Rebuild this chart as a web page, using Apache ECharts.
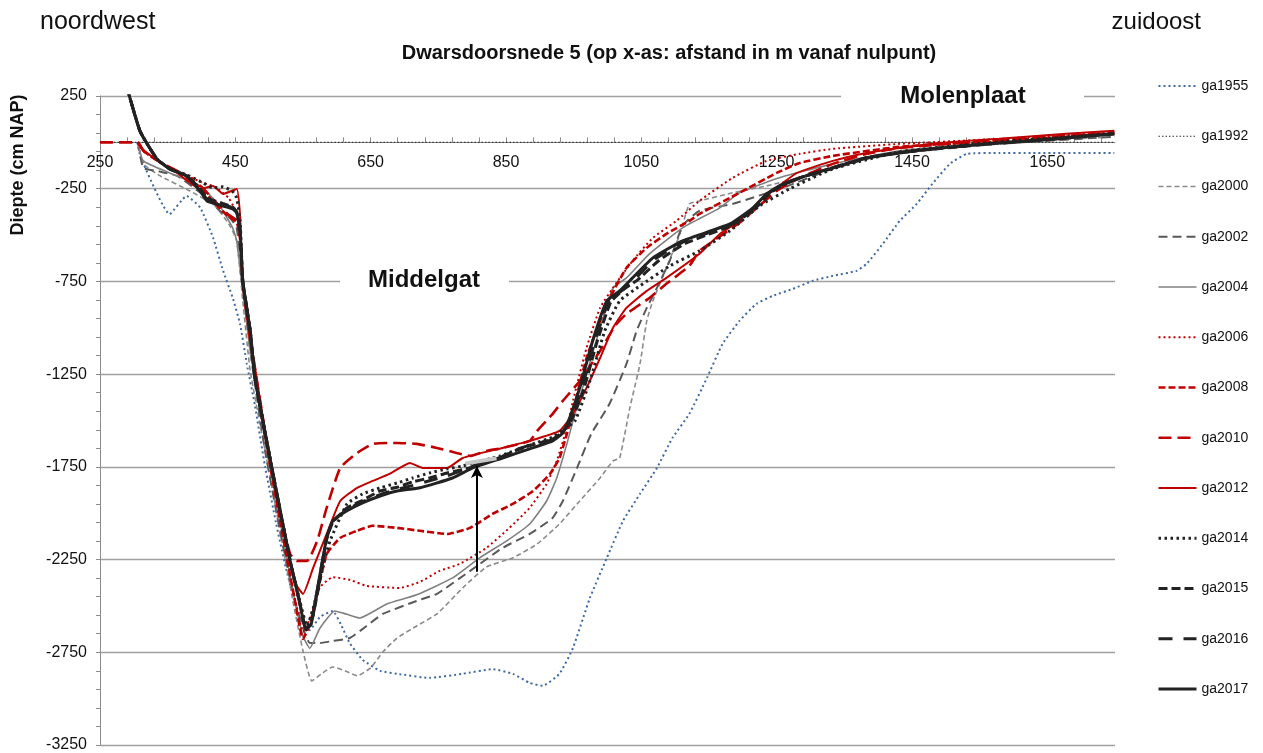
<!DOCTYPE html>
<html>
<head>
<meta charset="utf-8">
<script src="https://cdn.jsdelivr.net/npm/echarts@6/dist/echarts.min.js"></script>
<style>
html,body{margin:0;padding:0;background:#fff;}
#chart{width:1263px;height:753px;}
</style>
</head>
<body>
<div id="chart"></div>
<script>
// ---- data: [afstand (m), diepte (cm NAP)] ----
const seriesNames = ['ga1955','ga1992','ga2000','ga2002','ga2004','ga2006','ga2008','ga2010','ga2012','ga2014','ga2015','ga2016','ga2017'];

const ga1955 = [[305,0],[310,-80],[353,-387],[378,-289],[398,-352],[417,-513],[432,-693],[446,-837],[457,-980],[467,-1195],[479,-1420],[494,-1750],[510,-2050],[525,-2300],[541,-2511],[560,-2630],[575,-2560],[594,-2527],[606,-2600],[619,-2700],[638,-2790],[664,-2850],[689,-2866],[737,-2888],[786,-2866],[830,-2841],[860,-2866],[885,-2915],[904,-2931],[929,-2866],[949,-2726],[974,-2457],[999,-2241],[1023,-2041],[1048,-1896],[1073,-1756],[1096,-1594],[1121,-1464],[1147,-1270],[1170,-1087],[1195,-963],[1220,-871],[1244,-828],[1274,-790],[1303,-747],[1333,-720],[1368,-693],[1383,-655],[1407,-547],[1432,-423],[1457,-332],[1480,-224],[1506,-116],[1531,-62],[1579,-57],[1628,-57],[1749,-57]];
const ga1992 = [[250,0],[1750,0]];
const ga2000 = [[306,0],[314,-116],[339,-181],[383,-262],[420,-343],[442,-450],[452,-531],[461,-855],[472,-1232],[494,-1664],[516,-2095],[535,-2473],[550,-2743],[563,-2904],[579,-2861],[594,-2829],[612,-2850],[630,-2877],[650,-2834],[668,-2748],[689,-2673],[718,-2608],[748,-2543],[786,-2403],[821,-2290],[860,-2241],[896,-2166],[929,-2058],[959,-1934],[989,-1810],[1008,-1718],[1018,-1702],[1033,-1432],[1048,-1195],[1058,-963],[1067,-855],[1087,-677],[1107,-494],[1121,-332],[1136,-316],[1185,-272],[1235,-235],[1284,-191],[1333,-138],[1383,-84],[1432,-46],[1579,-3],[1749,30]];
const ga2002 = [[306,0],[314,-138],[334,-154],[364,-181],[408,-299],[427,-369],[442,-407],[452,-461],[461,-747],[472,-1125],[494,-1664],[516,-2095],[538,-2473],[553,-2650],[560,-2700],[575,-2700],[594,-2689],[619,-2673],[644,-2608],[668,-2543],[718,-2473],[748,-2435],[797,-2311],[845,-2187],[885,-2112],[919,-2025],[934,-1934],[955,-1756],[976,-1572],[1003,-1410],[1028,-1195],[1043,-1017],[1058,-893],[1073,-785],[1092,-639],[1111,-450],[1136,-369],[1185,-332],[1259,-245],[1324,-154],[1383,-89],[1432,-57],[1579,-8],[1749,30]];
const ga2004 = [[306,0],[314,-100],[353,-165],[398,-235],[427,-343],[446,-461],[452,-531],[461,-801],[472,-1125],[494,-1610],[516,-2041],[538,-2473],[550,-2662],[560,-2728],[575,-2620],[597,-2527],[615,-2545],[634,-2565],[654,-2530],[674,-2489],[718,-2440],[771,-2349],[811,-2241],[851,-2149],[885,-2058],[910,-1934],[925,-1810],[940,-1626],[949,-1502],[969,-1249],[989,-1001],[1008,-785],[1028,-731],[1062,-601],[1111,-461],[1166,-353],[1195,-272],[1254,-191],[1333,-116],[1432,-46],[1579,3],[1749,41]];
const ga2006 = [[306,0],[314,-46],[340,-110],[370,-165],[400,-215],[420,-240],[440,-300],[452,-380],[457,-480],[461,-750],[472,-1060],[494,-1580],[516,-2030],[538,-2460],[550,-2640],[560,-2570],[575,-2400],[594,-2345],[620,-2360],[644,-2392],[693,-2403],[723,-2370],[752,-2311],[782,-2273],[821,-2187],[855,-2079],[885,-1971],[910,-1842],[925,-1718],[940,-1540],[949,-1394],[969,-1109],[989,-893],[1008,-785],[1037,-639],[1067,-515],[1102,-423],[1136,-316],[1185,-191],[1235,-100],[1284,-62],[1333,-35],[1432,-8],[1579,19],[1749,57]];
const ga2008 = [[306,0],[314,-46],[340,-110],[370,-170],[400,-250],[420,-330],[440,-400],[452,-430],[457,-520],[461,-760],[472,-1070],[494,-1590],[516,-2040],[538,-2470],[550,-2678],[560,-2600],[571,-2435],[585,-2220],[605,-2133],[630,-2095],[653,-2068],[689,-2079],[723,-2095],[763,-2112],[797,-2079],[830,-2004],[860,-1950],[890,-1880],[915,-1788],[929,-1702],[940,-1572],[949,-1448],[969,-1163],[989,-963],[999,-871],[1028,-677],[1058,-569],[1087,-494],[1121,-423],[1136,-386],[1195,-272],[1250,-165],[1284,-111],[1333,-73],[1432,-24],[1579,8],[1749,46]];
const ga2010 = [[250,0],[306,0],[314,-46],[340,-110],[370,-165],[400,-240],[420,-320],[440,-390],[452,-420],[457,-500],[461,-750],[472,-1050],[494,-1560],[516,-1990],[531,-2220],[541,-2257],[556,-2257],[571,-2149],[585,-1971],[605,-1756],[630,-1675],[653,-1626],[689,-1621],[718,-1626],[748,-1648],[777,-1675],[797,-1691],[821,-1664],[845,-1648],[885,-1610],[896,-1556],[919,-1464],[934,-1394],[959,-1287],[989,-1125],[1011,-990],[1028,-925],[1062,-839],[1087,-763],[1121,-666],[1136,-585],[1195,-434],[1250,-262],[1284,-191],[1333,-116],[1383,-62],[1432,-30],[1579,13],[1749,51]];
const ga2012 = [[306,0],[314,-40],[334,-95],[364,-165],[398,-251],[417,-235],[432,-278],[452,-251],[457,-396],[461,-747],[472,-1050],[494,-1560],[516,-2000],[531,-2257],[541,-2392],[550,-2435],[565,-2295],[585,-2112],[605,-1934],[630,-1863],[653,-1826],[678,-1788],[708,-1729],[727,-1756],[763,-1756],[786,-1702],[845,-1648],[885,-1610],[929,-1556],[949,-1464],[969,-1324],[989,-1163],[1008,-1001],[1028,-893],[1058,-801],[1087,-731],[1136,-601],[1166,-494],[1195,-423],[1225,-316],[1250,-245],[1280,-165],[1333,-100],[1383,-57],[1432,-30],[1480,-8],[1531,8],[1579,19],[1678,46],[1749,62]];
const ga2014 = [[285,360],[309,62],[334,-89],[353,-143],[378,-175],[398,-210],[417,-245],[432,-240],[446,-265],[452,-300],[457,-420],[461,-747],[472,-1017],[479,-1270],[504,-1756],[531,-2257],[545,-2470],[556,-2608],[566,-2500],[579,-2295],[590,-2149],[615,-1950],[638,-1896],[664,-1863],[689,-1837],[712,-1810],[737,-1783],[763,-1761],[786,-1745],[841,-1691],[890,-1626],[919,-1589],[935,-1550],[952,-1502],[974,-1287],[996,-1017],[1018,-855],[1048,-774],[1092,-666],[1136,-585],[1181,-477],[1225,-342],[1269,-251],[1333,-143],[1432,-51],[1579,3],[1749,46]];
const ga2015 = [[285,360],[309,62],[334,-89],[353,-143],[378,-180],[398,-250],[408,-300],[432,-330],[446,-350],[452,-375],[457,-470],[461,-747],[472,-1017],[479,-1270],[504,-1756],[531,-2257],[545,-2480],[555,-2630],[564,-2560],[572,-2420],[585,-2140],[594,-2050],[615,-1971],[638,-1930],[664,-1880],[689,-1860],[712,-1831],[737,-1810],[763,-1783],[786,-1765],[801,-1750],[841,-1700],[866,-1660],[890,-1630],[919,-1600],[934,-1560],[948,-1490],[965,-1330],[985,-1070],[1005,-860],[1025,-790],[1045,-740],[1075,-640],[1115,-545],[1185,-445],[1220,-350],[1240,-275],[1260,-228],[1290,-185],[1333,-136],[1383,-82],[1432,-55],[1531,-17],[1628,10],[1749,48]];
const ga2016 = [[285,360],[309,62],[334,-89],[353,-143],[378,-181],[398,-255],[408,-305],[432,-335],[446,-352],[452,-378],[457,-475],[461,-747],[472,-1017],[479,-1270],[504,-1756],[531,-2257],[545,-2480],[554,-2625],[563,-2580],[571,-2420],[585,-2135],[594,-2045],[615,-1980],[638,-1938],[664,-1900],[689,-1872],[712,-1850],[737,-1825],[763,-1798],[786,-1768],[801,-1745],[841,-1700],[866,-1655],[890,-1628],[919,-1603],[934,-1560],[946,-1488],[962,-1326],[981,-1072],[1002,-857],[1021,-800],[1041,-735],[1070,-630],[1113,-535],[1183,-442],[1217,-352],[1237,-277],[1256,-233],[1286,-189],[1333,-137],[1383,-83],[1432,-56],[1531,-18],[1628,9],[1749,47]];
const ga2017 = [[285,360],[309,62],[334,-89],[353,-143],[378,-181],[398,-262],[408,-316],[432,-343],[446,-359],[452,-380],[457,-477],[461,-747],[472,-1017],[479,-1270],[504,-1756],[531,-2257],[545,-2480],[554,-2624],[562,-2600],[570,-2435],[585,-2133],[594,-2041],[615,-1987],[638,-1944],[664,-1907],[689,-1880],[723,-1863],[771,-1810],[801,-1756],[845,-1702],[885,-1653],[919,-1610],[934,-1567],[944,-1486],[959,-1324],[978,-1071],[999,-855],[1018,-801],[1037,-731],[1067,-623],[1111,-531],[1181,-440],[1215,-353],[1235,-278],[1254,-235],[1284,-191],[1333,-138],[1383,-84],[1432,-57],[1480,-35],[1531,-19],[1579,-3],[1628,8],[1678,24],[1749,46]];
const highlightSegment = [[790,-1732],[836,-1704]];
const arrowX = 807, arrowFrom = -2316, arrowTo = -1745;

// ---- styles ----
const FONT = '"Liberation Sans", Arial, sans-serif';
const RED = '#c00000', BLK = '#222222';
const styles = {
  ga1955: {color:'#3f6aa3', width:2, type:[2,3]},
  ga1992: {color:'#333333', width:1.2, type:[1.5,2]},
  ga2000: {color:'#8a8a8a', width:1.6, type:[5,3]},
  ga2002: {color:'#595959', width:2, type:[9,5]},
  ga2004: {color:'#808080', width:1.6, type:'solid'},
  ga2006: {color:RED, width:2, type:[2,3]},
  ga2008: {color:RED, width:2.6, type:[7,3]},
  ga2010: {color:RED, width:2.6, type:[13,6]},
  ga2012: {color:RED, width:2, type:'solid'},
  ga2014: {color:BLK, width:3, type:[2.5,3.5]},
  ga2015: {color:BLK, width:3, type:[9,4]},
  ga2016: {color:BLK, width:3, type:[14,11]},
  ga2017: {color:BLK, width:3, type:'solid'}
};
const dataMap = {ga1955, ga1992, ga2000, ga2002, ga2004, ga2006, ga2008, ga2010, ga2012, ga2014, ga2015, ga2016, ga2017};

const xMinorTicks = [];
for (let v = 250; v < 1750; v += 40) xMinorTicks.push(v);

const GRID_TOP = 96, GRID_BOTTOM = 8, Y_MIN = -3250, Y_MAX = 250;
const gridH = 753 - GRID_TOP - GRID_BOTTOM;
// move the x axis up so it crosses the y axis at 0 (as in the original)
const xAxisOffset = -gridH * (0 - Y_MIN) / (Y_MAX - Y_MIN);

const series = seriesNames.map(n => ({
  name: n, type: 'line', data: dataMap[n], showSymbol: false, symbol: 'none',
  smooth: 0.15, color: styles[n].color, z: 3,
  lineStyle: {color: styles[n].color, width: styles[n].width, type: styles[n].type, cap: 'butt'},
  emphasis: {disabled: true}
}));
series.push({
  name: 'highlight', type: 'line', data: highlightSegment, showSymbol: false, symbol: 'none',
  color: '#c8c8c8', lineStyle: {color: '#c8c8c8', width: 4}, z: 4,
  markLine: {
    silent: true, symbol: ['none','arrow'], symbolSize: [9,12],
    label: {show: false},
    lineStyle: {color: '#000', width: 2, type: 'solid'},
    data: [[{coord: [arrowX, arrowFrom]}, {coord: [arrowX, arrowTo]}]]
  }
});

const plain = v => String(v);

const chart = echarts.init(document.getElementById('chart'));
chart.setOption({
  animation: false,
  backgroundColor: '#fff',
  textStyle: {fontFamily: FONT},
  grid: {left: 100, right: 148, top: GRID_TOP, bottom: GRID_BOTTOM},
  xAxis: {
    type: 'value', min: 250, max: 1750, interval: 200,
    position: 'bottom', offset: xAxisOffset,
    axisLine: {onZero: false, lineStyle: {color: '#8c8c8c', width: 1}},
    axisTick: {show: true, inside: true, length: 5, customValues: xMinorTicks, lineStyle: {color: '#8c8c8c'}},
    axisLabel: {fontSize: 16, color: '#111', margin: 12, showMaxLabel: false, fontFamily: FONT, formatter: plain},
    splitLine: {show: false}
  },
  yAxis: {
    type: 'value', min: Y_MIN, max: Y_MAX, interval: 500,
    axisLine: {show: true, lineStyle: {color: '#8c8c8c', width: 1}},
    axisTick: {show: true, length: 4, lineStyle: {color: '#8c8c8c'}},
    minorTick: {show: true, splitNumber: 5, length: 4, lineStyle: {color: '#8c8c8c'}},
    axisLabel: {fontSize: 16, color: '#111', margin: 13, fontFamily: FONT, formatter: plain},
    splitLine: {show: true, lineStyle: {color: '#a0a0a0', width: 1.3}}
  },
  legend: {
    data: seriesNames, orient: 'vertical', left: 1157, top: 78, padding: 0,
    itemWidth: 38, itemHeight: 16, itemGap: 34.25,
    textStyle: {fontSize: 14, lineHeight: 16, color: '#111', fontFamily: FONT},
    itemStyle: {opacity: 0},
    lineStyle: {width: 'inherit'},
    selectedMode: false
  },
  graphic: [
    {type: 'text', x: 40, y: 22, z: 100, style: {text: 'noordwest', font: '25px ' + FONT, fill: '#111', verticalAlign: 'middle'}},
    {type: 'text', x: 1201, y: 22, z: 100, style: {text: 'zuidoost', font: '24px ' + FONT, fill: '#111', align: 'right', verticalAlign: 'middle'}},
    {type: 'text', x: 669, y: 53, z: 100, style: {text: 'Dwarsdoorsnede 5 (op x-as: afstand in m vanaf nulpunt)', font: 'bold 20px ' + FONT, fill: '#111', align: 'center', verticalAlign: 'middle'}},
    {type: 'rect', z: 100, shape: {x: 841, y: 80, width: 243, height: 32}, style: {fill: '#fff'}},
    {type: 'text', x: 963, y: 96, z: 101, style: {text: 'Molenplaat', font: 'bold 24px ' + FONT, fill: '#111', align: 'center', verticalAlign: 'middle'}},
    {type: 'rect', z: 100, shape: {x: 340, y: 265, width: 169, height: 32}, style: {fill: '#fff'}},
    {type: 'text', x: 424, y: 280, z: 101, style: {text: 'Middelgat', font: 'bold 24px ' + FONT, fill: '#111', align: 'center', verticalAlign: 'middle'}},
    {type: 'text', x: 18, y: 165, rotation: Math.PI / 2, z: 100, style: {text: 'Diepte (cm NAP)', font: 'bold 18px ' + FONT, fill: '#111', align: 'center', verticalAlign: 'middle'}}
  ],
  series: series
});
</script>
</body>
</html>
